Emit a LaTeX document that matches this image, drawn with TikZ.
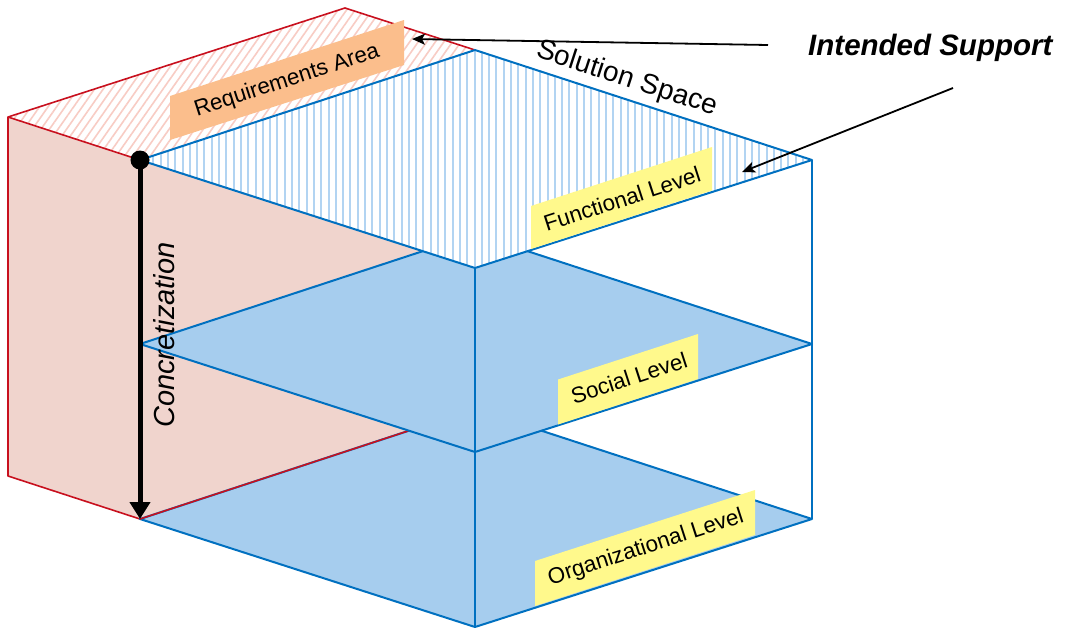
\documentclass[tikz,border=0pt]{standalone}
\usepackage{fontspec}
\setmainfont{Liberation Sans}
\usetikzlibrary{arrows.meta}
\usetikzlibrary{patterns.meta}
\definecolor{edgeblue}{RGB}{0,112,192}
\definecolor{lvlfill}{RGB}{166,205,238}
\definecolor{fnline}{RGB}{178,212,242}
\definecolor{edgered}{RGB}{200,16,30}
\definecolor{reqfill}{RGB}{240,212,205}
\definecolor{reqline}{RGB}{248,204,196}
\colorlet{tagyellow}{yellow!45!white}
\definecolor{tagorange}{RGB}{251,190,140}
\newcommand{\fsz}[1]{\fontsize{#1}{#1}\selectfont}
\tikzset{
  lvl/.style={draw=edgeblue,line width=2pt,line join=round},
  redge/.style={draw=edgered,line width=1.6pt,line join=round},
  tag/.style={rotate=18,inner sep=0pt,font=\fsz{22.4}},
  ptr/.style={line width=1.8pt,-{Stealth[length=13pt,width=11pt,inset=3pt]}}
}

\begin{document}
\begin{tikzpicture}[x=1pt,y=-1pt]
    \useasboundingbox (0,0) rectangle (1066,627);
    % Corners
    \coordinate (rl) at (8,117);
    \coordinate (rb) at (345,8);
    \coordinate (rd) at (8,476);
    \foreach \lv/\dy in {fn/0,so/184,or/359} {
      \coordinate (\lv-l) at (140,160+\dy);
      \coordinate (\lv-b) at (475,50+\dy);
      \coordinate (\lv-r) at (812,160+\dy);
      \coordinate (\lv-f) at (475,268+\dy);
    }
    % Requirements box
    \fill[reqfill] (rl) -- (fn-l) -- (or-l) -- (rd) -- cycle;
    \fill[reqfill] (fn-l) -- (fn-b) -- (or-b) -- (or-l) -- cycle;
    \fill[white] (rl) -- (rb) -- (fn-b) -- (fn-l) -- cycle;
    \fill[pattern={Lines[angle=55,distance=7pt,line width=1.6pt]},
      pattern color=reqline]
      (rl) -- (rb) -- (fn-b) -- (fn-l) -- cycle;
    \draw[redge] (fn-l) -- (rl) -- (rb) -- (fn-b);
    \draw[redge] (rl) -- (rd) -- (or-l);
    % Levels
    \draw[lvl,fill=lvlfill] (or-l) -- (or-b) -- (or-r) -- (or-f) -- cycle;
    \draw[redge] (or-l) -- (or-b);
    \draw[lvl,fill=lvlfill] (so-l) -- (so-b) -- (so-r) -- (so-f) -- cycle;
    \fill[white] (fn-l) -- (fn-b) -- (fn-r) -- (fn-f) -- cycle;
    \fill[pattern={Lines[angle=90,distance=7.3pt,line width=2pt]},
      pattern color=fnline]
      (fn-l) -- (fn-b) -- (fn-r) -- (fn-f) -- cycle;
    \draw[lvl] (fn-l) -- (fn-b) -- (fn-r) -- (fn-f) -- cycle;
    \draw[lvl] (fn-f) -- (or-f);
    \draw[lvl] (fn-r) -- (or-r);
    % Tags
    \fill[tagorange] (170,96) -- (404,20) -- (404,65) -- (170,140) -- cycle;
    \node[tag] (reqtxt) at (287,81) {Requirements Area};
    \fill[tagyellow] (531,206) -- (712,147) -- (712,190.5) -- (531,249) -- cycle;
    \node[tag] (fntxt) at (622,199) {Functional Level};
    \fill[tagyellow] (558,379.5) -- (698,334) -- (698,379) -- (558,424.5) -- cycle;
    \node[tag] (sotxt) at (629,378) {Social Level};
    \fill[tagyellow] (535,561) -- (755,490) -- (755,535) -- (535,606) -- cycle;
    \node[tag] (ortxt) at (646,548) {Organizational Level};
    % Concretization
    \draw[line width=5pt,-{Triangle[length=17pt,width=20pt]}] (fn-l) -- (or-l);
    \fill (fn-l) circle[radius=9.5pt];
    \node[rotate=90,font=\itshape\fsz{29}] (conc) at (164,335) {Concretization};
    % Annotations
    \node[rotate=-18,font=\fsz{28}] (soltxt) at (627,79) {Solution Space};
    \node[anchor=base west,inner sep=0pt,font=\bfseries\itshape\fsz{29.5}]
      (intxt) at (808,55) {Intended Support};
    \coordinate (ptrA) at (768,45);
    \coordinate (ptrB) at (953,88);
    \coordinate (reqtip) at (412,39);
    \coordinate (fntip) at (742,172);
    \draw[ptr] (ptrA) -- (reqtip);
    \draw[ptr] (ptrB) -- (fntip);
\end{tikzpicture}
\end{document}
